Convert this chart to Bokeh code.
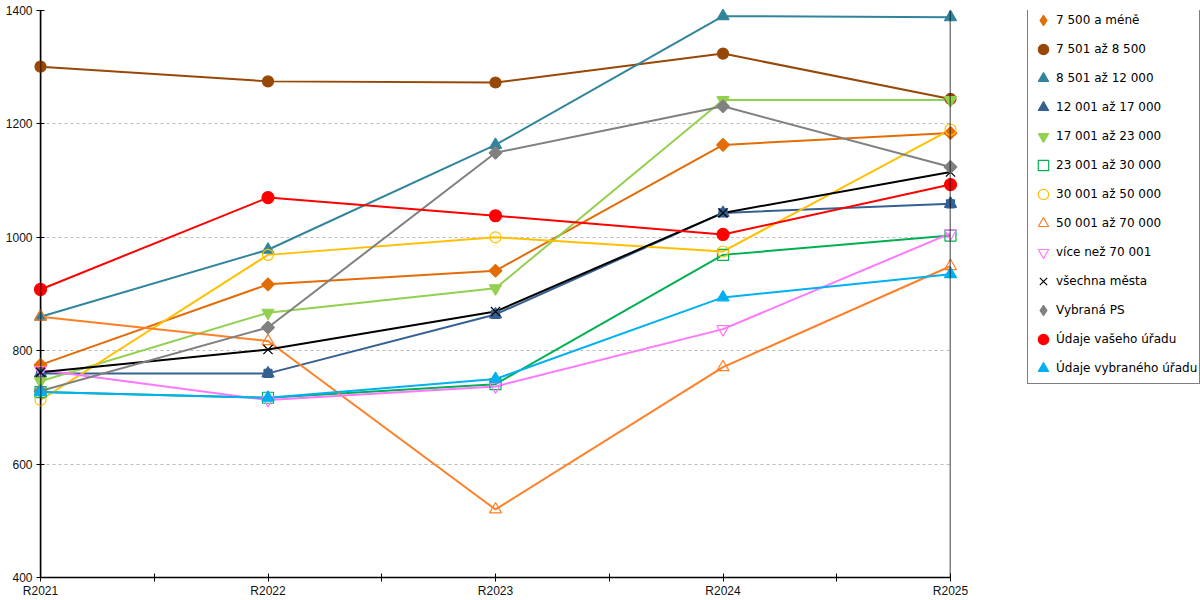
from bokeh.plotting import figure
from bokeh.layouts import row
from bokeh.models import Range1d, FixedTicker, Span, Legend, LegendItem
from bokeh.embed import file_html
from bokeh.resources import INLINE
import math

years = ["R2021", "R2022", "R2023", "R2024", "R2025"]

names = [
    "7 500 a méně", "7 501 až 8 500", "8 501 až 12 000", "12 001 až 17 000",
    "17 001 až 23 000", "23 001 až 30 000", "30 001 až 50 000", "50 001 až 70 000",
    "více než 70 001", "všechna města", "Vybraná PS", "Údaje vašeho úřadu",
    "Údaje vybraného úřadu",
]

s_7500 = [775, 917, 941, 1163, 1184]
s_8500 = [1301, 1275, 1273, 1324, 1244]
s_12000 = [860, 978, 1163, 1390, 1388]
s_17000 = [760, 760, 864, 1043, 1059]
s_23000 = [746, 867, 910, 1242, 1242]
s_30000 = [727, 717, 741, 969, 1003]
s_50000 = [713, 969, 1000, 975, 1190]
s_70000 = [860, 817, 520, 771, 949]
s_over = [766, 713, 737, 838, 1007]
s_all = [762, 802, 869, 1043, 1115]
s_ps = [729, 841, 1149, 1231, 1124]
s_yours = [908, 1070, 1038, 1005, 1093]
s_sel = [727, 717, 750, 894, 935]

series = [s_7500, s_8500, s_12000, s_17000, s_23000, s_30000, s_50000,
          s_70000, s_over, s_all, s_ps, s_yours, s_sel]

colors = ["#E36C09", "#984806", "#31859B", "#366092", "#92D050", "#00B050",
          "#FFC000", "#FF7F27", "#FF77FF", "#000000", "#808080", "#FF0000",
          "#00B0F0"]

D = math.pi / 4  # a square turned by 45 degrees gives the wide diamond
# (markers drawn on the chart as (marker, size, angle), legend markers, filled)
markers = [
    ([("square", 9, D)], ["diamond"], True),
    ([("circle", 11, 0)], ["circle"], True),
    ([("triangle", 12, 0)], ["triangle"], True),
    ([("triangle", 12, 0), ("square", 8, 0)], ["triangle"], True),
    ([("inverted_triangle", 12, 0)], ["inverted_triangle"], True),
    ([("square", 11, 0)], ["square"], False),
    ([("circle", 11, 0)], ["circle"], False),
    ([("triangle", 12, 0)], ["triangle"], False),
    ([("inverted_triangle", 12, 0)], ["inverted_triangle"], False),
    ([("x", 13, 0)], ["x"], False),
    ([("square", 9, D)], ["diamond"], True),
    ([("circle", 12, 0)], ["circle"], True),
    ([("triangle", 12, 0)], ["triangle"], True),
]

x = list(range(len(years)))

p = figure(width=1000, height=600, output_backend="svg", toolbar_location=None,
           x_range=Range1d(0, len(years) - 1), y_range=Range1d(400, 1400),
           min_border_left=40, min_border_right=50, min_border_top=10,
           min_border_bottom=21, outline_line_color=None)

p.background_fill_color = "white"
p.border_fill_color = "white"

p.xgrid.grid_line_color = None
p.ygrid.grid_line_color = "#BBBBBB"
p.ygrid.grid_line_dash = "3 3"
p.ygrid.grid_line_width = 1

p.xaxis.ticker = FixedTicker(ticks=x, minor_ticks=[i + 0.5 for i in x[:-1]])
p.xaxis.major_label_overrides = {i: y for i, y in zip(x, years)}
p.yaxis.ticker = FixedTicker(ticks=[400, 600, 800, 1000, 1200, 1400])

for ax in (p.xaxis[0], p.yaxis[0]):
    ax.axis_line_color = "black"
    ax.axis_line_width = 1.5
    ax.major_tick_line_color = "black"
    ax.major_tick_in = 4
    ax.major_tick_out = 4
    ax.major_label_text_font = "Liberation Sans"
    ax.major_label_text_font_size = "12px"
    ax.major_label_text_color = "#111111"
p.xaxis.minor_tick_line_color = "black"
p.xaxis.minor_tick_in = 4
p.xaxis.minor_tick_out = 4
p.xaxis.major_label_standoff = 2
p.yaxis.minor_tick_line_color = None
p.yaxis.major_label_standoff = 4

# legend lives in its own small figure to the right of the chart;
# its ranges leave the data outside the view so only the legend shows
pl = figure(width=200, height=600, output_backend="svg", toolbar_location=None,
            x_range=Range1d(-2, -1), y_range=Range1d(0, 1), min_border=0,
            outline_line_color=None)
pl.axis.visible = False
pl.grid.visible = False

items = []
for name, vals, col, (mk, lmk, filled) in zip(names, series, colors, markers):
    p.line(x, vals, line_color=col, line_width=2)
    for m, size, ang in mk:
        p.scatter(x, vals, marker=m, size=size, angle=ang, line_color=col,
                  fill_color=col if filled else None,
                  line_width=1.2, level="annotation")
    rs = []
    for m in lmk:
        rs.append(pl.scatter(x, vals, marker=m, line_color=col,
                             fill_color=col if filled else None, line_width=1.2))
    items.append(LegendItem(label=name, renderers=rs))

p.add_layout(Span(location=0, dimension="height", line_color="black", line_width=1.5))
p.add_layout(Span(location=len(years) - 1, dimension="height", line_color="black", line_width=1.5))

legend = Legend(items=items, location=(27, 193))
legend.border_line_color = "black"
legend.border_line_width = 1
legend.background_fill_color = "white"
legend.background_fill_alpha = 1
legend.label_text_font = "DejaVu Sans"
legend.label_text_font_size = "12px"
legend.label_text_color = "black"
legend.glyph_width = 26
legend.glyph_height = 26
legend.label_height = 26
legend.spacing = 3
legend.padding = 2
legend.label_standoff = 0
legend.margin = 0
pl.add_layout(legend)

layout = row(p, pl)
open("out.html", "w").write(file_html(layout, INLINE))
